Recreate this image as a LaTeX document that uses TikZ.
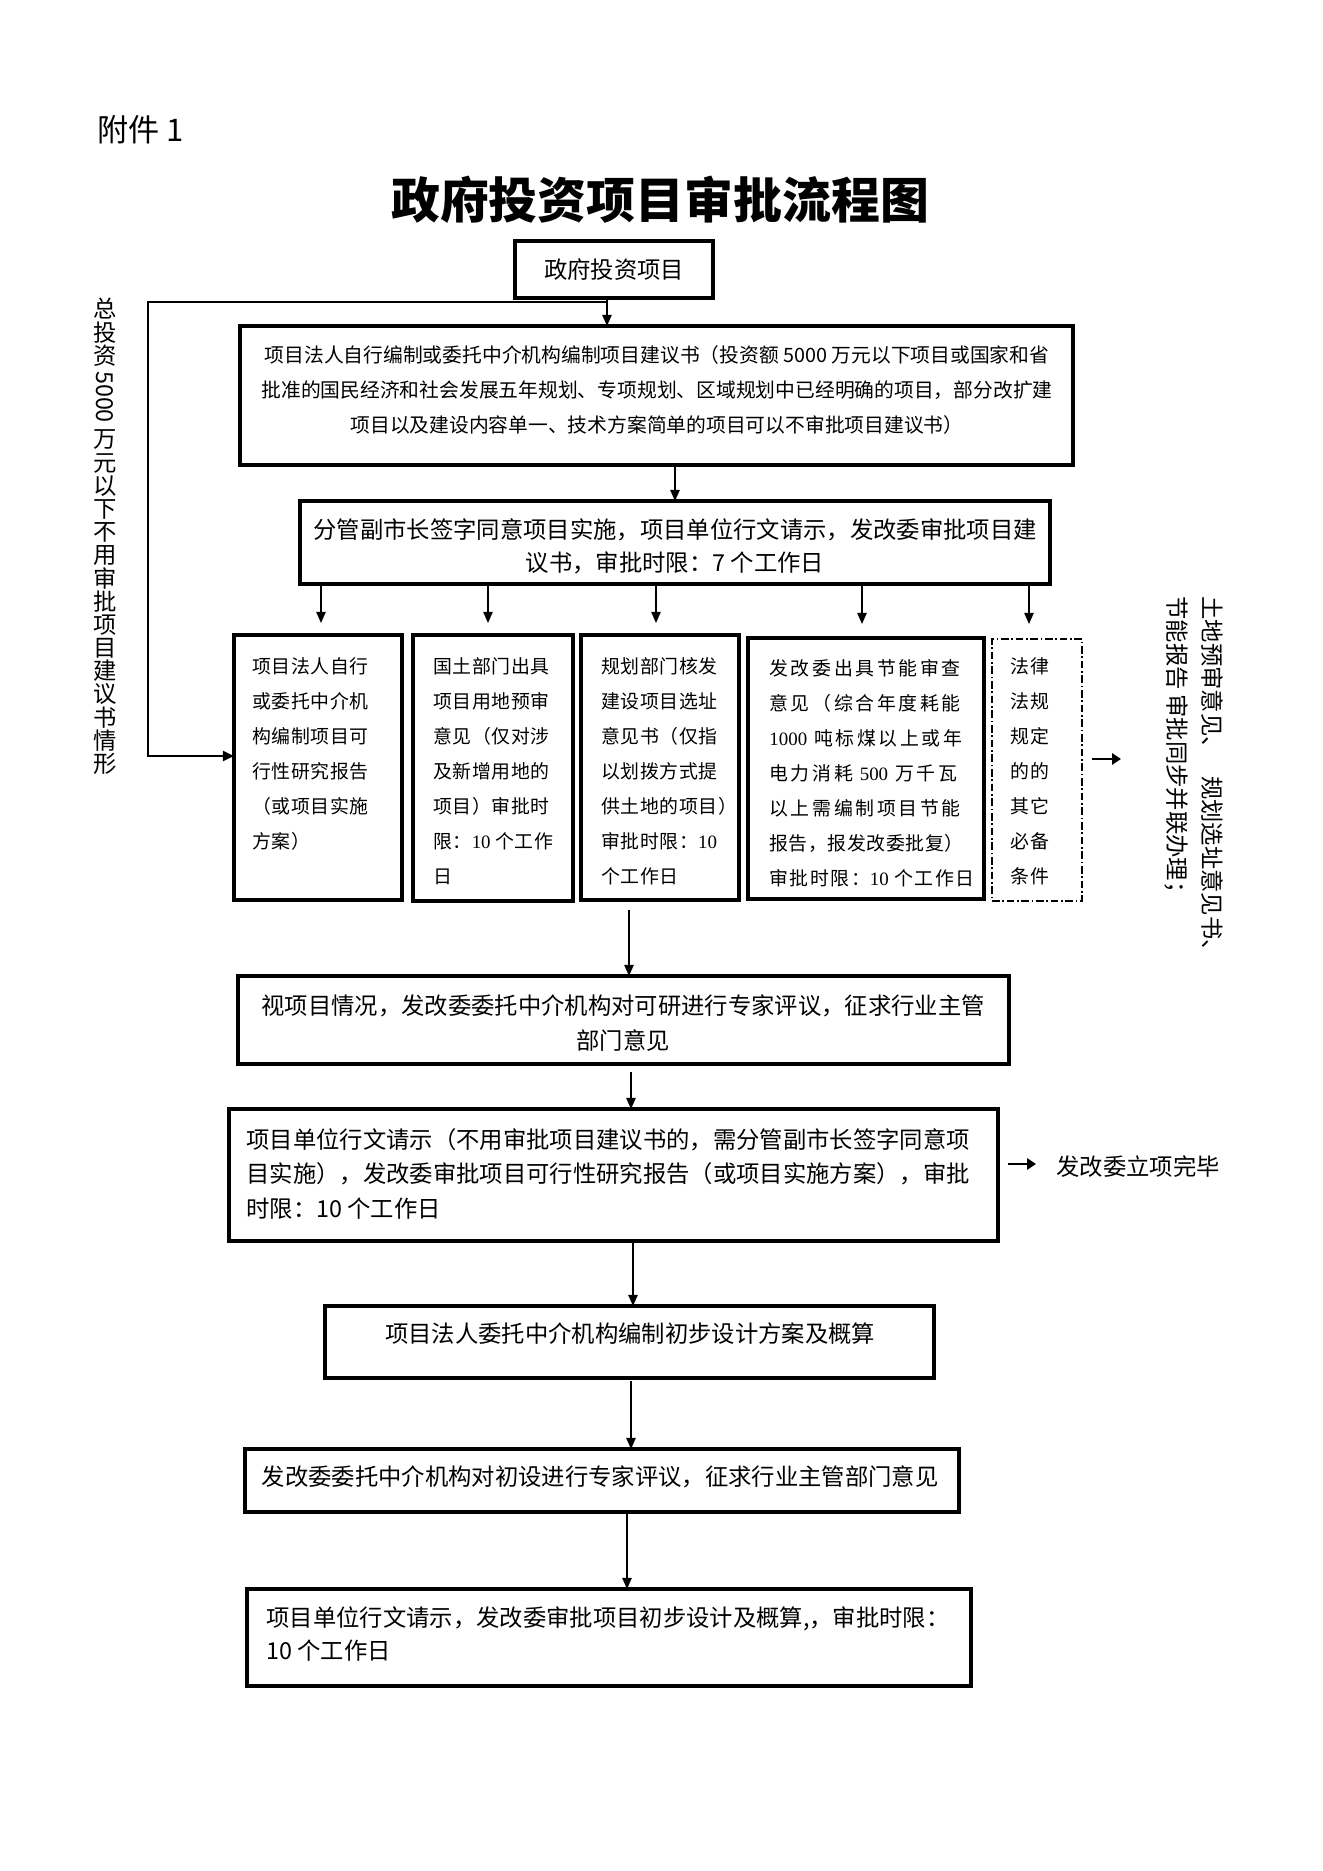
\documentclass[tikz,border=0pt]{standalone}
\usepackage{fontspec}
\usepackage{graphicx}
\setmainfont{Liberation Sans}
\newfontfamily\hei{Noto Sans CJK SC}
\newfontfamily\song{Noto Sans CJK SC}
\newfontfamily\songA{Noto Sans CJK SC}[LetterSpace=3]
\newfontfamily\songD{Noto Sans CJK SC}[LetterSpace=14]
\newfontfamily\songDD{Noto Sans CJK SC}[LetterSpace=8]
\newfontfamily\songE{Noto Sans CJK SC}[LetterSpace=6]
\newfontfamily\serifl{Liberation Serif}
\usetikzlibrary{arrows.meta,fit}
\newcommand\fsz[2]{\fontsize{#1}{#2}\selectfont}
\tikzset{
  box/.style={draw, line width=1.4pt, inner sep=0pt, outer sep=0pt, rectangle},
  dbox/.style={draw, line width=0.6pt, dash pattern=on 3.5pt off 1.2pt on 0.7pt off 1.2pt, inner sep=0pt, outer sep=0pt, rectangle},
  conn/.style={line width=0.7pt, -{Triangle[length=5pt,width=4.2pt]}},
  loopline/.style={line width=1pt},
  thickarr/.style={line width=1.1pt, -{Triangle[length=4pt,width=5pt]}},
  txt/.style={inner sep=0pt, font=\hei\fsz{10.5}{15.75}},
  stxt/.style={inner sep=0pt, anchor=north west, align=left},
  vchar/.style={inner sep=0pt, font=\hei\fsz{10.5}{11.1}},
}
\begin{document}
\begin{tikzpicture}[x=0.45pt,y=-0.45pt]
\fill[white] (0,0) rectangle (1323,1871);
\useasboundingbox (0,0) rectangle (1323,1871);

% header
\node[inner sep=0pt, anchor=west, font=\hei\fsz{14}{16}] (fj) at (97,130) {附件 1};
\node[inner sep=0pt, font=\hei\bfseries\fsz{22}{26}] (title) at (660,200) {政府投资项目审批流程图};

% boxes
\node[box, fit={(515,241) (713,298)}] (b1) {};
\node[box, fit={(240,326) (1073,465)}] (b2) {};
\node[box, fit={(300,501) (1050,584)}] (b3) {};
\node[box, fit={(234,635) (402,900)}] (bA) {};
\node[box, fit={(413,635) (573,901)}] (bB) {};
\node[box, fit={(581,635) (739,900)}] (bC) {};
\node[box, fit={(748,638) (984,899)}] (bD) {};
\node[dbox, fit={(992,639) (1082,901)}] (bE) {};
\node[box, fit={(238,976) (1009,1064)}] (bF) {};
\node[box, fit={(229,1109) (998,1241)}] (bG) {};
\node[box, fit={(325,1306) (934,1378)}] (bH) {};
\node[box, fit={(245,1449) (959,1512)}] (bI) {};
\node[box, fit={(247,1589) (971,1686)}] (bJ) {};

% texts
\node[txt] (t1) at (614,270) {政府投资项目};
\node[txt, align=center, font=\hei\fsz{8.9}{15.75}] (t2) at (657,390) {项目法人自行编制或委托中介机构编制项目建议书（投资额 5000 万元以下项目或国家和省\\批准的国民经济和社会发展五年规划、专项规划、区域规划中已经明确的项目，部分改扩建\\项目以及建设内容单一、技术方案简单的项目可以不审批项目建议书）};
\node[txt, align=center, font=\hei\fsz{10.5}{14.85}] (t3) at (675,546.5) {分管副市长签字同意项目实施，项目单位行文请示，发改委审批项目建\\议书，审批时限：7 个工作日};

\node[stxt, font=\songA\fsz{8.5}{15.75}] (tA) at (252,657) {项目法人自行\\或委托中介机\\构编制项目可\\行性研究报告\\（或项目实施\\方案）};
\node[stxt, font=\songA\fsz{8.5}{15.75}] (tB) at (433,657) {国土部门出具\\项目用地预审\\意见（仅对涉\\及新增用地的\\项目）审批时\\限：{\serifl 10} 个工作\\日};
\node[stxt, font=\songA\fsz{8.5}{15.75}] (tC) at (601,657) {规划部门核发\\建设项目选址\\意见书（仅指\\以划拨方式提\\供土地的项目）\\审批时限：{\serifl 10}\\个工作日};
\node[stxt, font=\songD\fsz{8.5}{15.75}] (tD) at (769,659) {发改委出具节能审查\\意见（综合年度耗能\\{\serifl 1000} 吨标煤以上或年\\电力消耗 {\serifl 500} 万千瓦\\以上需编制项目节能\\{\songA 报告，报发改委批复）}\\{\songDD 审批时限：{\serifl 10} 个工作日}};
\node[stxt, font=\songE\fsz{8.5}{15.75}] (tE) at (1010,657) {法律\\法规\\规定\\的的\\其它\\必备\\条件};

\node[txt, align=center] (tF) at (623,1023.5) {视项目情况，发改委委托中介机构对可研进行专家评议，征求行业主管\\部门意见};
\node[txt, align=left, anchor=west, font=\hei\fsz{10.5}{15.5}] (tG) at (246,1173.5) {项目单位行文请示（不用审批项目建议书的，需分管副市长签字同意项\\目实施），发改委审批项目可行性研究报告（或项目实施方案），审批\\时限：10 个工作日};
\node[txt, anchor=west] (tDone) at (1056,1167) {发改委立项完毕};
\node[txt] (tH) at (630,1334) {项目法人委托中介机构编制初步设计方案及概算};
\node[txt] (tI) at (600,1477) {发改委委托中介机构对初设进行专家评议，征求行业主管部门意见};
\node[txt, align=left, anchor=west, font=\hei\fsz{10.5}{14.85}] (tJ) at (266,1634.5) {项目单位行文请示，发改委审批项目初步设计及概算,，审批时限：\\10 个工作日};

% side texts
\foreach \ch [count=\i from 0] in {总,投,资} {
  \node[vchar] (tLa\i) at (105,{309+23.4*\i}) {\ch};
}
\node[vchar, rotate=-90] (tL2) at (105,397) {5000};
\foreach \ch [count=\i from 0] in {万,元,以,下,不,用,审,批,项,目,建,议,书,情,形} {
  \node[vchar] (tLb\i) at (105,{440+23.1*\i}) {\ch};
}
\node[rotate=-90, anchor=north west, align=left, inner sep=0pt, font=\song\fsz{10.5}{15.75}] (tR) at (1224,596) {土地预审意见、\hspace{0.7em}规划选址意见书、\\节能报告\hspace{0.2em}审批同步并联办理；};

% coordinates
\coordinate (j) at (607,302);
\coordinate (lc) at (148,756);
\coordinate (aA) at (321,623);
\coordinate (aB) at (488,623);
\coordinate (aC) at (656,623);
\coordinate (aD) at (862,624);
\coordinate (aE) at (1029,624);
\coordinate (sF) at (629,910);
\coordinate (sG) at (631,1072);
\coordinate (kH) at (633,1241);
\coordinate (kI) at (631,1381);
\coordinate (kJ) at (627,1514);
\coordinate (rE1) at (1092,759);
\coordinate (rE2) at (1121,759);
\coordinate (rG1) at (1008,1164);
\coordinate (rG2) at (1036,1164);

% connectors
\draw[conn] (b1.south -| j) -- (b2.north -| j);
\draw[loopline, -{Triangle[length=5pt,width=4.5pt]}] (j) -| (lc) -- (lc -| bA.west);
\draw[conn] (b2.south -| b3.north) -- (b3.north);
\foreach \c in {aA,aB,aC,aD,aE} { \draw[conn] (b3.south -| \c) -- (\c); }
\draw[conn] (sF) -- (bF.north -| sF);
\draw[conn] (sG) -- (bG.north -| sG);
\draw[conn] (kH) -- (bH.north -| kH);
\draw[conn] (kI) -- (bI.north -| kI);
\draw[conn] (kJ) -- (bJ.north -| kJ);
\draw[thickarr] (rE1) -- (rE2);
\draw[thickarr] (rG1) -- (rG2);
\end{tikzpicture}
\end{document}
